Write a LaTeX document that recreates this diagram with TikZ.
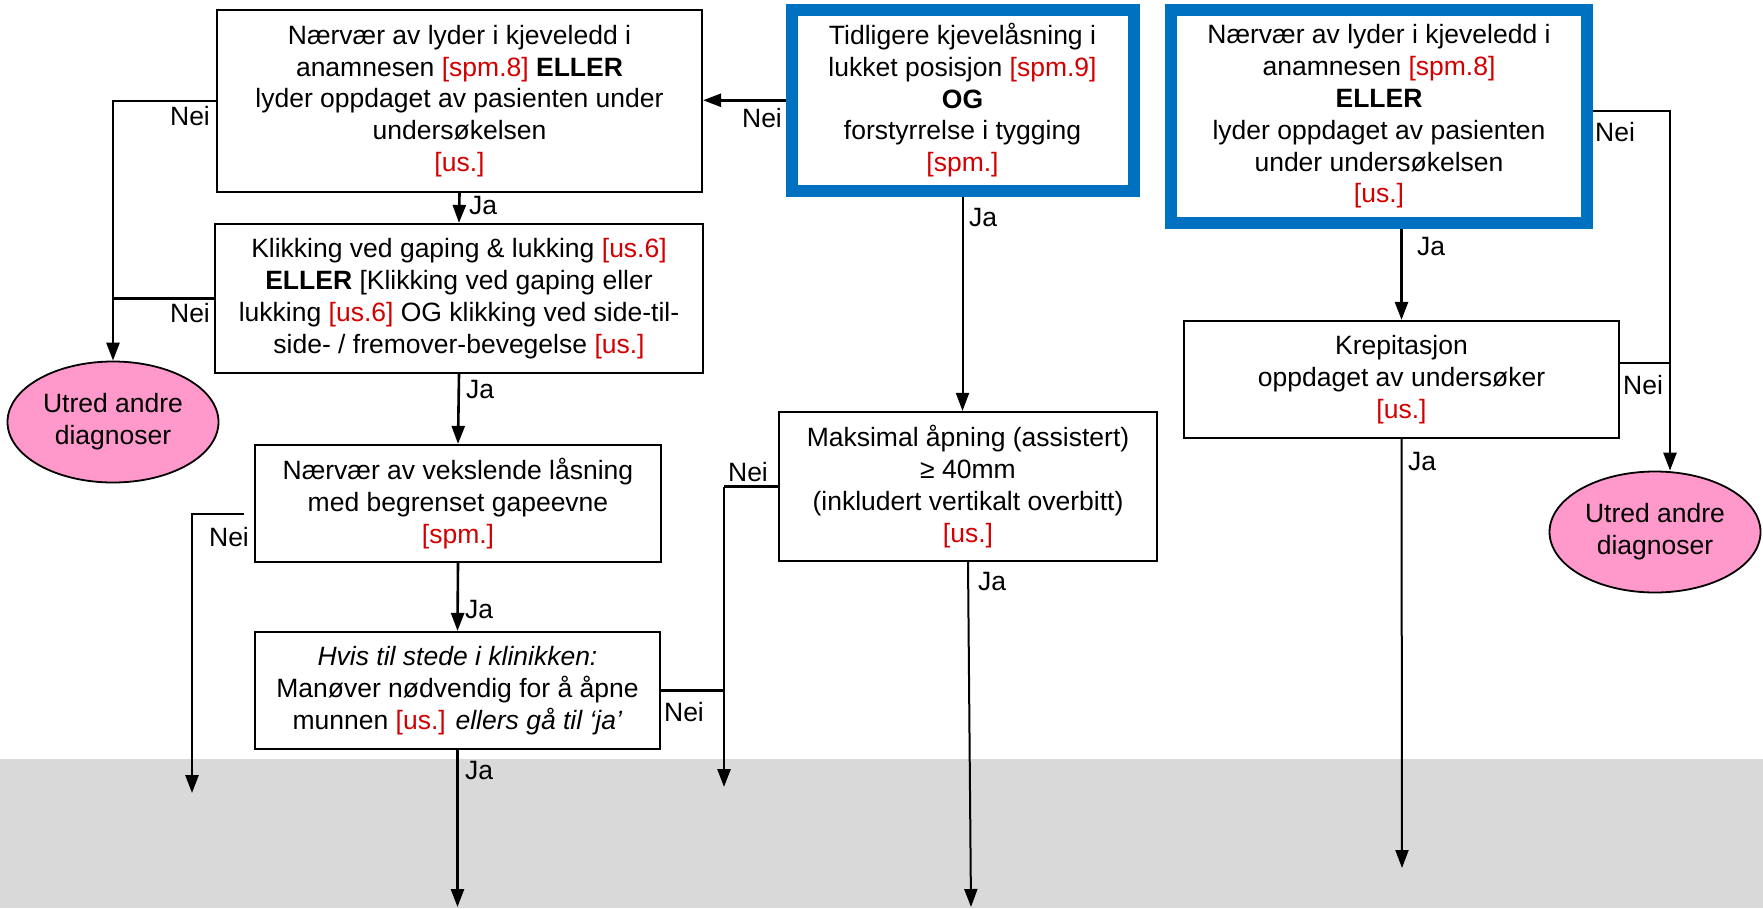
\documentclass[tikz,border=0pt]{standalone}
\usepackage{fontspec}
\setmainfont{Liberation Sans}
\usetikzlibrary{arrows.meta,shapes.geometric,calc}
\definecolor{myred}{RGB}{210,0,0}
\definecolor{myblue}{RGB}{0,112,192}
\definecolor{mypink}{RGB}{255,153,204}
\definecolor{mygray}{RGB}{217,217,217}
\newcommand{\rd}[1]{\textcolor{myred}{#1}}
\begin{document}
\begin{tikzpicture}[x=1pt,y=-1pt,
  txt/.style={font=\fontsize{26.5}{31.8}\selectfont},
  box/.style={txt,draw=black,line width=2.2pt,fill=white,align=center,inner sep=0pt},
  bluebox/.style={txt,draw=myblue,line width=12pt,fill=white,align=center,inner sep=0pt},
  oval/.style={txt,ellipse,draw=black,line width=1.8pt,fill=mypink,align=center,inner sep=0pt,minimum width=211pt,minimum height=121pt},
  conn/.style={line width=2.6pt,-{Triangle[length=18pt,width=13pt]}},
  plainline/.style={line width=2.6pt},
  lbl/.style={txt,inner sep=0pt}]
\useasboundingbox (0,0) rectangle (1763,908);
\fill[mygray] (0,759) rectangle (1763,908);

% boxes
\node[box,minimum width=485pt,minimum height=182pt] (A) at (459.5,101)
 {Nærvær av lyder i kjeveledd i\\ anamnesen \rd{[spm.8]} \textbf{ELLER}\\ lyder oppdaget av pasienten under\\ undersøkelsen\\ \rd{[us.]}};
\node[box,minimum width=488pt,minimum height=149pt] (B) at (459,298.5)
 {Klikking ved gaping \& lukking \rd{[us.6]}\\ \textbf{ELLER} [Klikking ved gaping eller\\ lukking \rd{[us.6]} OG klikking ved side-til-\\ side- / fremover-bevegelse \rd{[us.]}};
\node[box,minimum width=406pt,minimum height=117pt] (D) at (458,503.5)
 {Nærvær av vekslende låsning\\ med begrenset gapeevne\\ \rd{[spm.]}};
\node[box,minimum width=405pt,minimum height=117pt] (E) at (457.5,690.5)
 {\textit{Hvis til stede i klinikken:}\\ Manøver nødvendig for å åpne\\ munnen \rd{[us.]} \textit{ellers gå til ‘ja’}};
\node[bluebox,minimum width=342pt,minimum height=180.5pt] (C) at (962.5,100.25)
 {Tidligere kjevelåsning i\\ lukket posisjon \rd{[spm.9]}\\ \textbf{OG}\\ forstyrrelse i tygging\\ \rd{[spm.]}};
\node[box,minimum width=378pt,minimum height=149pt] (G) at (968,486.5)
 {Maksimal åpning (assistert)\\ ≥ 40mm\\ (inkludert vertikalt overbitt)\\ \rd{[us.]}};
\node[bluebox,minimum width=416pt,minimum height=213pt] (H) at (1379,116.5)
 {Nærvær av lyder i kjeveledd i\\ anamnesen \rd{[spm.8]}\\ \textbf{ELLER}\\ lyder oppdaget av pasienten\\ under undersøkelsen\\ \rd{[us.]}};
\node[box,minimum width=435pt,minimum height=117pt] (I) at (1401.5,379.5)
 {Krepitasjon\\ oppdaget av undersøker\\ \rd{[us.]}};
\node[oval] (L) at (113,422) {Utred andre\\ diagnoser};
\node[oval] (R) at (1655,532) {Utred andre\\ diagnoser};

% free ends
\coordinate (dN) at (192,793);
\coordinate (eN) at (724,787);
\coordinate (eJ) at (457,907);
\coordinate (gJ) at (971,907);
\coordinate (hx) at (1670,0);
\coordinate (iJ) at (1402,868);
\coordinate (dS) at ($(D.west)+(-10,10.5)$);
\coordinate (hE) at ($(H.east)+(0,-5.5)$);
\coordinate (iE) at ($(I.east)+(0,-16.5)$);

% connectors
\draw[conn] (C.west) -- (C.west -| A.east);
\draw[conn] (A.west) -- (A.west -| L.north) -- (L.north);
\draw[plainline] (B.west) -- (B.west -| L.north);
\draw[conn] (A.south) -- (B.north);
\draw[conn] (B.south) -- (D.north);
\draw[conn] (dS) -| (dN);
\draw[conn] (D.south) -- (E.north);
\draw[plainline] (E.east) -- (E.east -| eN);
\draw[plainline] (G.west) -- (G.west -| eN);
\draw[conn] (G.west -| eN) -- (eN);
\draw[conn] (E.south) -- (E.south |- eJ);
\draw[conn,line width=2pt] (C.south) -- (C.south |- G.north);
\draw[conn,line width=2pt] (G.south) -- (gJ);
\draw[conn] (I.north |- H.south) -- (I.north);
\draw[conn] (hE) -| (R.north -| hx);
\draw[plainline] (iE) -- (iE -| hx);
\draw[conn,line width=2pt] (I.south) -- (iJ);

% labels
\node[lbl] (l1) at (762,118) {Nei};
\node[lbl] (l2) at (190,116) {Nei};
\node[lbl] (l3) at (190,313) {Nei};
\node[lbl] (l4) at (483,206) {Ja};
\node[lbl] (l5) at (480,390) {Ja};
\node[lbl] (l6) at (229,537) {Nei};
\node[lbl] (l7) at (479,610) {Ja};
\node[lbl] (l8) at (684,712) {Nei};
\node[lbl] (l9) at (748,472) {Nei};
\node[lbl] (l10) at (479,771) {Ja};
\node[lbl] (l11) at (983,218) {Ja};
\node[lbl] (l12) at (992,582) {Ja};
\node[lbl] (l13) at (1431,247) {Ja};
\node[lbl] (l14) at (1615,132) {Nei};
\node[lbl] (l15) at (1643,385) {Nei};
\node[lbl] (l16) at (1422,462) {Ja};
\end{tikzpicture}
\end{document}
